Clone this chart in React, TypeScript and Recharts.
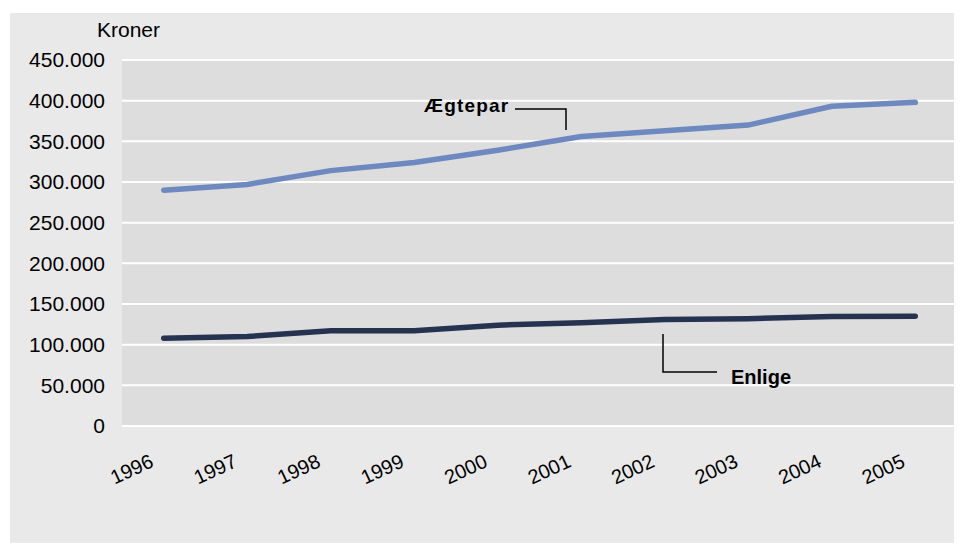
import { LineChart, Line, XAxis, YAxis, CartesianGrid } from 'recharts';

const years = ['1996', '1997', '1998', '1999', '2000', '2001', '2002', '2003', '2004', '2005'];
const aegtepar = [290000, 297000, 314000, 324000, 339000, 356000, 363000, 370000, 393000, 398000];
const enlige = [108000, 110000, 117000, 117000, 124000, 127000, 131000, 132000, 134500, 135000];
const yTicks = [0, 50000, 100000, 150000, 200000, 250000, 300000, 350000, 400000, 450000];

const data = years.map((year, i) => ({ year, aegtepar: aegtepar[i], enlige: enlige[i] }));

const font = '"Liberation Sans", Arial, sans-serif';

const fmt = (v: number) => (v === 0 ? '0' : v.toLocaleString('da-DK'));

function YearTick(props: any) {
  const { x, y, payload } = props;
  const ax = x - 9;
  const ay = y + 40;
  return (
    <text
      x={ax}
      y={ay}
      textAnchor="end"
      transform={`rotate(-25, ${ax}, ${ay})`}
      fontSize={20}
      fontFamily={font}
      fill="#000"
    >
      {payload.value}
    </text>
  );
}

export default function App() {
  return (
    <div
      style={{
        position: 'relative',
        left: 2,
        top: 5,
        width: 952,
        height: 535,
        background: '#e9e9e9',
      }}
    >
      <LineChart
        width={952}
        height={535}
        data={data}
        margin={{ top: 47, right: 5, left: 0, bottom: 62 }}
      >
        <CartesianGrid vertical={false} fill="#dddddd" stroke="#ffffff" strokeWidth={2} />
        <XAxis
          dataKey="year"
          height={60}
          padding={{ left: 41.75, right: 41.75 }}
          axisLine={false}
          tickLine={false}
          tickSize={0}
          tickMargin={0}
          interval={0}
          tick={<YearTick />}
        />
        <YAxis
          width={112}
          domain={[0, 450000]}
          ticks={yTicks}
          tickFormatter={fmt}
          axisLine={false}
          tickLine={false}
          tickSize={0}
          tickMargin={17}
          tick={{ fontSize: 21, fontFamily: font, fill: '#000' }}
        />
        <Line
          dataKey="aegtepar"
          stroke="#6d89bf"
          strokeWidth={5.5}
          strokeLinecap="round"
          dot={false}
          activeDot={false}
          isAnimationActive={false}
        />
        <Line
          dataKey="enlige"
          stroke="#263350"
          strokeWidth={5.5}
          strokeLinecap="round"
          dot={false}
          activeDot={false}
          isAnimationActive={false}
        />
      </LineChart>
      <svg
        width={952}
        height={535}
        style={{ position: 'absolute', left: 0, top: 0, pointerEvents: 'none' }}
      >
        <text x={87} y={24} fontSize={21} fontFamily={font} fill="#000">
          Kroner
        </text>
        <text
          x={414}
          y={99}
          fontSize={19}
          fontWeight="bold"
          letterSpacing={1.2}
          fontFamily={font}
          fill="#000"
        >
          Ægtepar
        </text>
        <polyline points="505,96 556,96 556,117" fill="none" stroke="#000" strokeWidth={1.5} />
        <polyline points="653,321 653,359 707,359" fill="none" stroke="#000" strokeWidth={1.5} />
        <text x={721} y={371} fontSize={20} fontWeight="bold" fontFamily={font} fill="#000">
          Enlige
        </text>
      </svg>
    </div>
  );
}
